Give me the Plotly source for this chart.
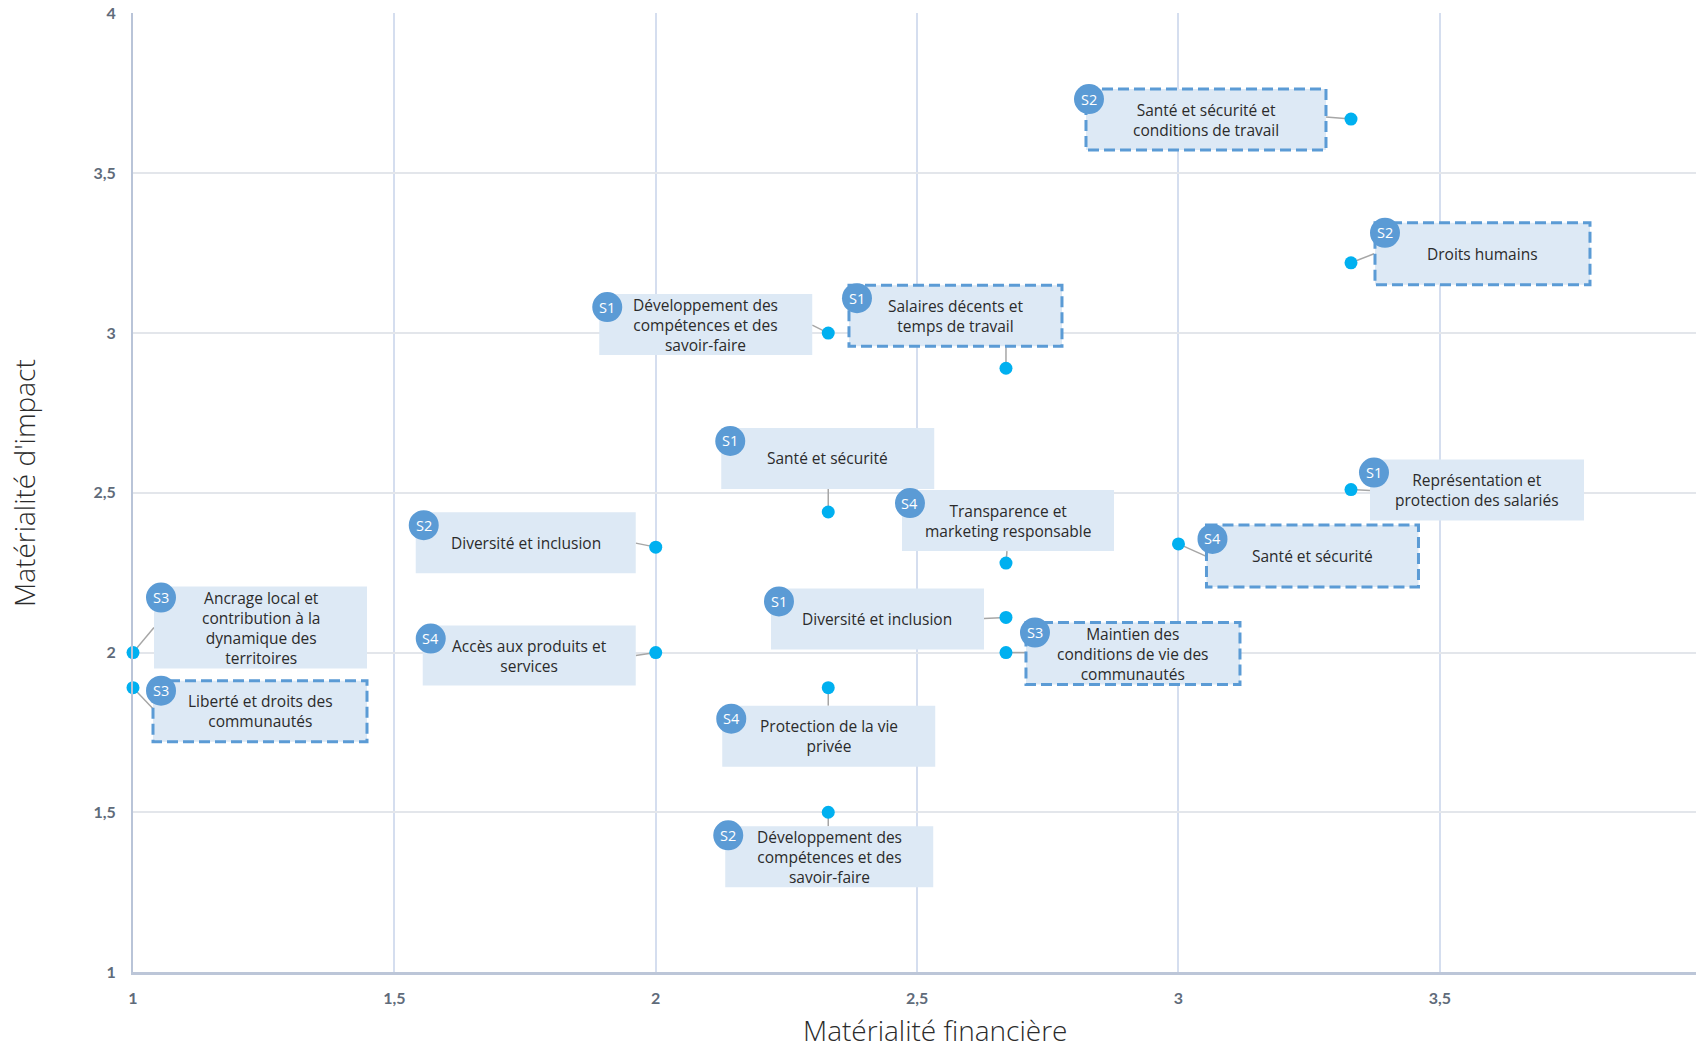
import plotly.graph_objects as go

# ---------------- data ----------------
topics = [
    "Santé et sécurité et<br>conditions de travail",
    "Droits humains",
    "Développement des<br>compétences et des<br>savoir-faire",
    "Salaires décents et<br>temps de travail",
    "Santé et sécurité",
    "Représentation et<br>protection des salariés",
    "Diversité et inclusion",
    "Transparence et<br>marketing responsable",
    "Santé et sécurité",
    "Ancrage local et<br>contribution à la<br>dynamique des<br>territoires",
    "Liberté et droits des<br>communautés",
    "Accès aux produits et<br>services",
    "Diversité et inclusion",
    "Maintien des<br>conditions de vie des<br>communautés",
    "Protection de la vie<br>privée",
    "Développement des<br>compétences et des<br>savoir-faire",
]
pillars = ["S2", "S2", "S1", "S1", "S1", "S1", "S2", "S4",
           "S4", "S3", "S3", "S4", "S1", "S3", "S4", "S2"]
financial = [3.33, 3.33, 2.33, 2.67, 2.33, 3.33, 2.00, 2.67,
             3.00, 1.00, 1.00, 2.00, 2.67, 2.67, 2.33, 2.33]
impact = [3.67, 3.22, 3.00, 2.89, 2.44, 2.51, 2.33, 2.28,
          2.34, 2.00, 1.89, 2.00, 2.11, 2.00, 1.89, 1.50]
highlighted = [True, True, False, True, False, False, False, False,
               True, False, True, False, False, True, False, False]

x_tickvals = [1, 1.5, 2, 2.5, 3, 3.5]
x_ticktext = ["1", "1,5", "2", "2,5", "3", "3,5"]
y_tickvals = [1, 1.5, 2, 2.5, 3, 3.5, 4]
y_ticktext = ["1", "1,5", "2", "2,5", "3", "3,5", "4"]
x_title = "Matérialité financière"
y_title = "Matérialité d'impact"

# ------------- label placement (pixel offsets from each point, y downward) -------------
# box: left, right, top, bottom ; leader end (ex, ey) ; badge centre (bx, by)
placement = [
    (-265, -25, -30, 31, -25, -2, -262, -20),
    (24, 239, -40, 22, 23, -9, 34, -30),
    (-229, -16, -39, 22, -16, -8, -221, -26),
    (-157, 56, -83, -22, 0, -22, -149, -70),
    (-107, 106, -84, -23, 0, -23, -98, -71),
    (19, 233, -30, 31, 19, 1, 23, -17),
    (-240, -20, -35, 26, -20, -4, -232, -22),
    (-104, 108, -73, -12, 1, -12, -96, -60),
    (28, 240, -19, 43, 29, 13, 34, -5),
    (21, 234, -66, 16, 21, -25, 28, -55),
    (20, 234, -7, 54, 21, 22, 28, 3),
    (-233, -20, -27, 33, -20, 3, -225, -14),
    (-235, -22, -29, 32, -22, 1, -227, -16),
    (20, 234, -30, 32, 20, 0, 29, -20),
    (-106, 107, 18, 79, 0, 18, -97, 31),
    (-103, 105, 14, 75, 0, 14, -100, 23),
]

BOX_FILL = "#dde9f5"
ACCENT = "#5b9bd5"
POINT = "#00b0f0"
TEXT = "#2b2b2b"
FONT = "Open Sans"
TICK_FONT = "Lato"

fig = go.Figure()
fig.add_trace(go.Scatter(
    x=financial, y=impact, mode="markers",
    marker=dict(size=13, color=POINT),
    hovertext=[t.replace("<br>", " ") for t in topics], hoverinfo="text",
    cliponaxis=False,
))

shapes = []
badges = []
annotations = []
for i in range(len(topics)):
    l, r, t, b, ex, ey, bx, by = placement[i]
    common = dict(xref="x", yref="y", xsizemode="pixel", ysizemode="pixel",
                  xanchor=financial[i], yanchor=impact[i], layer="between")
    shapes.append(dict(type="line", x0=ex, y0=-ey, x1=0, y1=0,
                       line=dict(color="#a6a6a6", width=1.5), **common))
    if highlighted[i]:
        line = dict(color=ACCENT, width=3, dash="11px,5px")
    else:
        line = dict(color="rgba(0,0,0,0)", width=0)
    shapes.append(dict(type="rect", x0=l, x1=r, y0=-t, y1=-b,
                       fillcolor=BOX_FILL, line=line, **common))
    badges.append(dict(type="circle", x0=bx - 15, x1=bx + 15, y0=-(by - 15), y1=-(by + 15),
                       fillcolor=ACCENT, line=dict(width=0), **common))
    annotations.append(dict(
        x=financial[i], y=impact[i], xref="x", yref="y",
        xshift=(l + r) / 2, yshift=-(t + b) / 2,
        text=topics[i], showarrow=False, align="center",
        xanchor="center", yanchor="middle",
        font=dict(family=FONT, size=15.5, color=TEXT),
    ))
    annotations.append(dict(
        x=financial[i], y=impact[i], xref="x", yref="y",
        xshift=bx, yshift=-by, text=pillars[i], showarrow=False,
        xanchor="center", yanchor="middle",
        font=dict(family=FONT, size=14.5, color="white"),
    ))

# axis titles
annotations.append(dict(
    text=x_title, xref="paper", yref="paper", x=0.513, y=-0.0608,
    xanchor="center", yanchor="middle", showarrow=False,
    font=dict(family=FONT, size=28, color=TEXT, weight=300),
))
annotations.append(dict(
    text=y_title, xref="paper", yref="paper", x=-0.0697, y=0.51,
    xanchor="center", yanchor="middle", showarrow=False, textangle=-90,
    font=dict(family=FONT, size=28, color=TEXT, weight=300),
))

fig.update_layout(
    width=1696, height=1050,
    margin=dict(l=133, r=0, t=13, b=78, autoexpand=False),
    paper_bgcolor="white", plot_bgcolor="white",
    showlegend=False,
    shapes=shapes + badges,
    annotations=annotations,
    font=dict(family=FONT, color=TEXT),
    xaxis=dict(
        range=[1, 3.99], tickmode="array", tickvals=x_tickvals, ticktext=x_ticktext,
        showgrid=True, gridcolor="#d5deef", gridwidth=1.5,
        showline=True, linecolor="#bcc6d8", linewidth=2.5, zeroline=False,
        ticks="", ticklabelstandoff=10, ticklabeloverflow="allow", automargin=False,
        tickfont=dict(family=TICK_FONT, size=16, color="#5f6b7a", weight="bold"),
    ),
    yaxis=dict(
        range=[1, 4.002], tickmode="array", tickvals=y_tickvals, ticktext=y_ticktext,
        showgrid=True, gridcolor="#e3e6eb", gridwidth=2,
        showline=True, linecolor="#b9c4d8", linewidth=2, zeroline=False,
        ticks="", ticklabelstandoff=12, ticklabeloverflow="allow", automargin=False,
        tickfont=dict(family=TICK_FONT, size=16, color="#5f6b7a", weight="bold"),
    ),
)

fig.write_html("out.html", config={"displayModeBar": False},
               post_script="document.body.style.margin='0';")
